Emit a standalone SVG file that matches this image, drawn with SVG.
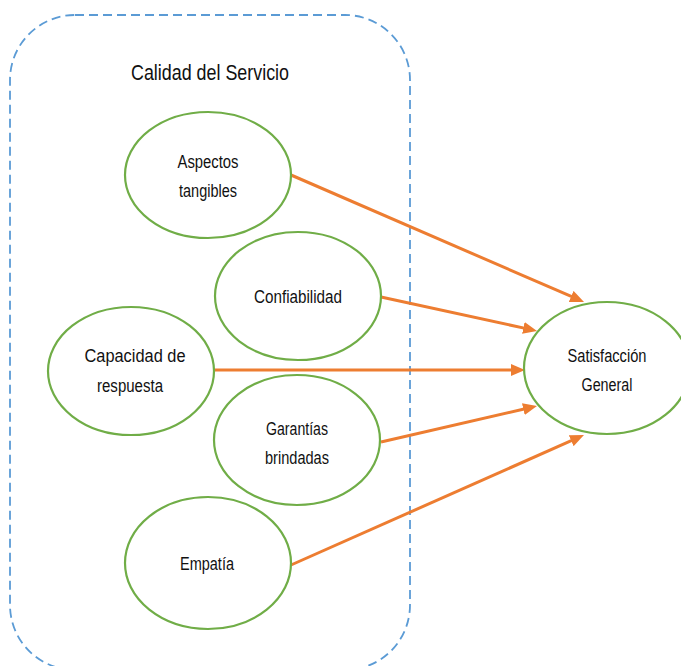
<svg xmlns="http://www.w3.org/2000/svg" width="681" height="666" viewBox="0 0 681 666">
  <defs>
    <marker id="arrow" markerUnits="userSpaceOnUse" markerWidth="14" markerHeight="12" refX="2" refY="6" orient="auto">
      <path d="M0,0 L14,6 L0,12 z" fill="#ED7D31"/>
    </marker>
    <style>
      .group { fill: none; stroke: #5B9BD5; stroke-width: 1.8; stroke-dasharray: 9 5; }
      .node ellipse { fill: #FFFFFF; stroke: #70AD47; stroke-width: 2.2; }
      .node text, .title { font-family: "Liberation Sans", Arial, sans-serif; fill: #111111; text-anchor: middle; }
      .node text { font-size: 17.5px; }
      .title { font-size: 21.5px; }
      .links line { stroke: #ED7D31; stroke-width: 3; marker-end: url(#arrow); }
    </style>
  </defs>

  <rect width="681" height="666" fill="#FFFFFF"/>

  <!-- service quality container -->
  <rect class="group" x="10" y="15" width="400" height="655" rx="65" ry="65"/>
  <text class="title" x="210" y="80" textLength="158" lengthAdjust="spacingAndGlyphs">Calidad del Servicio</text>

  <!-- connectors -->
  <g id="links" class="links">
    <line x1="291" y1="175" x2="573" y2="297.2"/>
    <line x1="381" y1="297" x2="525.3" y2="328.4"/>
    <line x1="214" y1="370" x2="513" y2="370"/>
    <line x1="381" y1="442" x2="525.3" y2="408.7"/>
    <line x1="291" y1="565" x2="573" y2="439.9"/>
  </g>

  <g id="aspectos" class="node">
    <ellipse cx="208" cy="175" rx="83" ry="63"/>
    <text x="208" y="168" textLength="61" lengthAdjust="spacingAndGlyphs">Aspectos</text>
    <text x="208" y="197" textLength="58" lengthAdjust="spacingAndGlyphs">tangibles</text>
  </g>

  <g id="confiabilidad" class="node">
    <ellipse cx="298" cy="296" rx="83" ry="64"/>
    <text x="298" y="303" textLength="88" lengthAdjust="spacingAndGlyphs">Confiabilidad</text>
  </g>

  <g id="capacidad" class="node">
    <ellipse cx="131" cy="371" rx="83" ry="64"/>
    <text x="135" y="362" textLength="101" lengthAdjust="spacingAndGlyphs">Capacidad de</text>
    <text x="130" y="392" textLength="66" lengthAdjust="spacingAndGlyphs">respuesta</text>
  </g>

  <g id="garantias" class="node">
    <ellipse cx="297" cy="440" rx="83" ry="65"/>
    <text x="297" y="435" textLength="62" lengthAdjust="spacingAndGlyphs">Garantías</text>
    <text x="297" y="464" textLength="64" lengthAdjust="spacingAndGlyphs">brindadas</text>
  </g>

  <g id="empatia" class="node">
    <ellipse cx="208" cy="563" rx="83" ry="66"/>
    <text x="207" y="570" textLength="54" lengthAdjust="spacingAndGlyphs">Empatía</text>
  </g>

  <g id="satisfaccion" class="node">
    <ellipse cx="607" cy="368" rx="83" ry="66"/>
    <text x="607" y="362" textLength="79" lengthAdjust="spacingAndGlyphs">Satisfacción</text>
    <text x="607" y="391" textLength="51" lengthAdjust="spacingAndGlyphs">General</text>
  </g>
</svg>
